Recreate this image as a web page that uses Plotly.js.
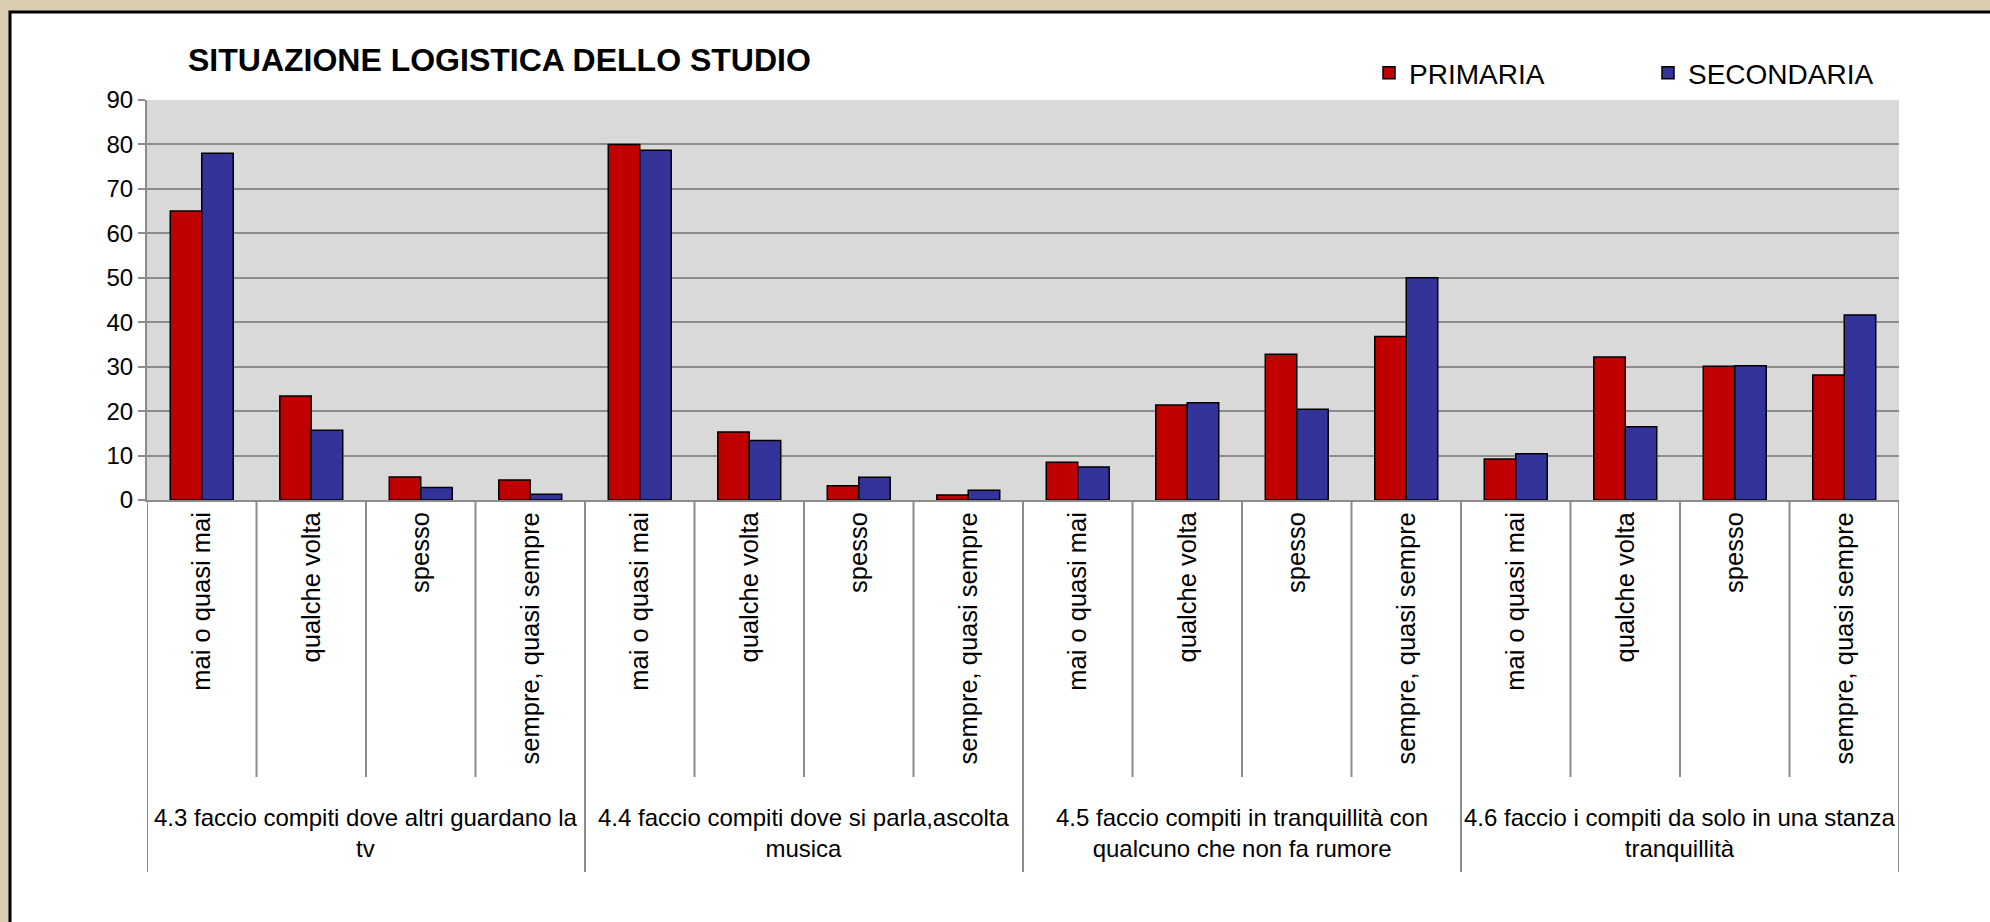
<!DOCTYPE html>
<html>
<head>
<meta charset="utf-8">
<script src="https://cdn.plot.ly/plotly-3.0.1.min.js"></script>
<style>
  html, body { margin: 0; padding: 0; background: #d9cdb2; }
  #chart { width: 1990px; height: 922px; }
</style>
</head>
<body>
<div id="chart"></div>
<script>
// ---- data ----
const chartTitle = "SITUAZIONE LOGISTICA DELLO STUDIO";
const groups = [
  "4.3 faccio compiti dove altri guardano la<br>tv",
  "4.4 faccio compiti dove si parla,ascolta<br>musica",
  "4.5 faccio compiti in tranquillità con<br>qualcuno che non fa rumore",
  "4.6 faccio i compiti da solo in una stanza<br>tranquillità"
];
const answers = ["mai o quasi mai", "qualche volta", "spesso", "sempre, quasi sempre"];
const seriesNames = ["PRIMARIA", "SECONDARIA"];
const primaria   = [65.0, 23.4, 5.2, 4.5,  80.0, 15.3, 3.2, 1.1,  8.5, 21.4, 32.8, 36.8,  9.2, 32.2, 30.1, 28.1];
const secondaria = [78.0, 15.7, 2.8, 1.3,  78.7, 13.4, 5.1, 2.2,  7.4, 21.9, 20.4, 50.0,  10.4, 16.5, 30.2, 41.6];
const yTicks = [0, 10, 20, 30, 40, 50, 60, 70, 80, 90];

// ---- derived ----
const labels = [];
groups.forEach(() => answers.forEach(a => labels.push(a)));
const idx = labels.map((_, i) => i);

const FONT = "Liberation Sans, Arial, sans-serif";
const W = 1990, H = 922;
const mL = 147, mR = 91, mT = 100, mB = 422;
const pw = W - mL - mR, ph = H - mT - mB;
const px2x = p => (p - mL) / pw;
const py2y = p => (H - mB - p) / ph;

const traces = [
  { type: "bar", name: seriesNames[0], x: idx, y: primaria,
    marker: { color: "#c00000", line: { color: "#000000", width: 1.5 } } },
  { type: "bar", name: seriesNames[1], x: idx, y: secondaria,
    marker: { color: "#333399", line: { color: "#000000", width: 1.5 } } }
];

const shapes = [
  // white chart panel with black border
  { type: "rect", xref: "paper", yref: "paper", layer: "below",
    x0: px2x(10), x1: px2x(W + 20), y0: py2y(H + 20), y1: py2y(12),
    fillcolor: "#ffffff", line: { color: "#000000", width: 3 } },
  // plot area background
  { type: "rect", xref: "paper", yref: "paper", layer: "below",
    x0: 0, x1: 1, y0: 0, y1: 1, fillcolor: "#d9d9d9", line: { width: 0 } }
];
for (let b = 0; b <= labels.length; b++) {
  const isGroup = b % answers.length === 0;
  shapes.push({ type: "line", xref: "x", yref: "paper",
    x0: b - 0.5, x1: b - 0.5, y0: 0, y1: isGroup ? py2y(872) : py2y(777),
    line: { color: "#8c8c8c", width: 2 } });
}

const annotations = groups.map((g, i) => ({
  xref: "x", yref: "paper",
  x: i * answers.length + (answers.length - 1) / 2, y: py2y(833),
  xanchor: "center", yanchor: "middle", showarrow: false,
  text: g, align: "center",
  font: { family: FONT, size: 24, color: "#000000" }
}));

const layout = {
  width: W, height: H, autosize: false,
  margin: { l: mL, r: mR, t: mT, b: mB, pad: 0, autoexpand: false },
  paper_bgcolor: "#d9cdb2",
  plot_bgcolor: "rgba(0,0,0,0)",
  font: { family: FONT, size: 23, color: "#000000" },
  title: { text: chartTitle, xref: "container", yref: "container",
    x: 188 / W, xanchor: "left", y: 1 - 60 / H, yanchor: "middle",
    font: { family: FONT, size: 32, weight: 700, color: "#000000" } },
  barmode: "group", bargap: 0.425, bargroupgap: 0,
  showlegend: true,
  legend: { orientation: "h", x: px2x(1369), xanchor: "left", y: py2y(73), yanchor: "middle",
    entrywidth: 234, entrywidthmode: "pixels", bgcolor: "rgba(0,0,0,0)",
    font: { family: FONT, size: 28, color: "#000000" }, itemwidth: 30 },
  xaxis: { range: [-0.5, labels.length - 0.5], tickmode: "array", tickvals: idx, ticktext: labels,
    tickangle: -90, ticks: "", showgrid: false, zeroline: false,
    showline: true, linecolor: "#8c8c8c", linewidth: 2,
    ticklabelstandoff: 0, tickfont: { family: FONT, size: 25.5, color: "#000000" },
    fixedrange: true },
  yaxis: { range: [0, 90], tickmode: "array", tickvals: yTicks,
    showgrid: true, gridcolor: "#8c8c8c", gridwidth: 2, zeroline: false,
    showline: true, linecolor: "#8c8c8c", linewidth: 2,
    ticks: "outside", ticklen: 7, tickcolor: "#8c8c8c", tickwidth: 2,
    tickfont: { family: FONT, size: 24, color: "#000000" }, fixedrange: true },
  shapes: shapes,
  annotations: annotations
};

Plotly.newPlot("chart", traces, layout, { displayModeBar: false, staticPlot: true });
</script>
</body>
</html>
